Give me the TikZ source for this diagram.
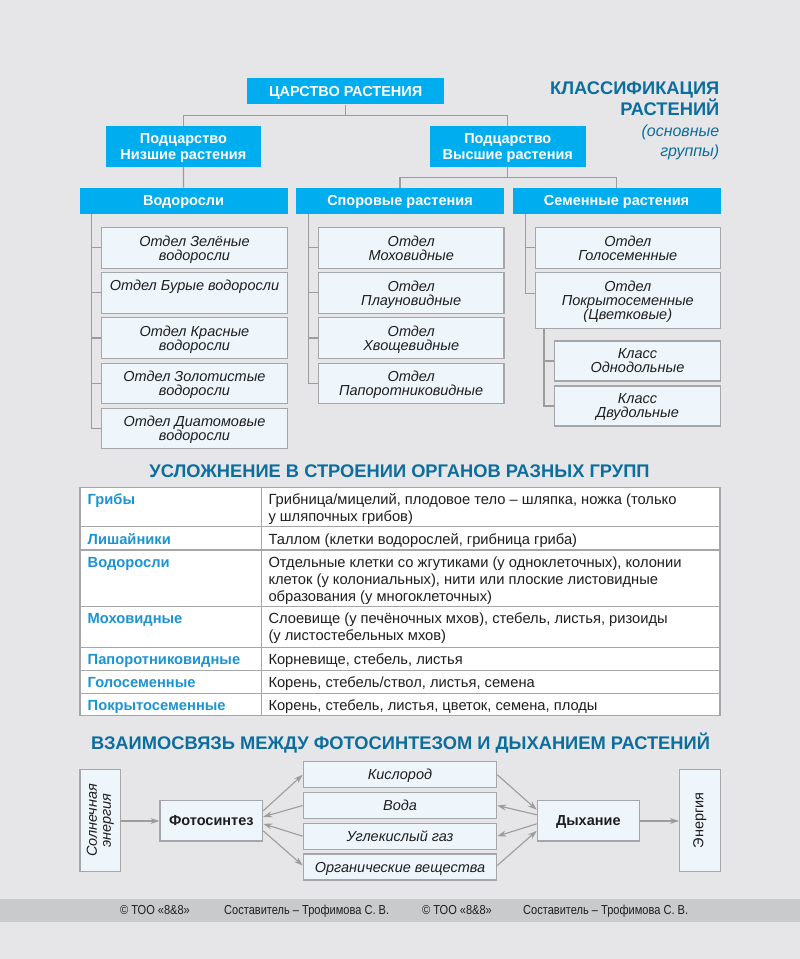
\documentclass[tikz,border=0pt]{standalone}
\usepackage{fontspec}
\setmainfont{Liberation Sans}
\newfontfamily\narrowfont[FakeStretch=0.85]{Liberation Sans}
\usetikzlibrary{arrows.meta,calc}
\definecolor{bg}{HTML}{E6E6E8}
\definecolor{footband}{HTML}{C9CACC}
\definecolor{cyanbox}{HTML}{00AEEF}
\definecolor{titleblue}{HTML}{0C6E9E}
\definecolor{tabblue}{HTML}{1C94D2}
\definecolor{boxfill}{HTML}{EEF6FC}
\definecolor{boxline}{HTML}{A4A6A9}
\definecolor{lineg}{HTML}{9C9C9C}
\definecolor{ink}{HTML}{1E1E1E}
\tikzset{
  hdr/.style={fill=cyanbox, text=white, font=\bfseries\fontsize{14.5}{15.5}\selectfont, inner sep=0pt, align=center, text depth=0pt},
  leaf/.style={draw=boxline, line width=1.1pt, fill=boxfill, text=ink, font=\itshape\fontsize{14.5}{14}\selectfont, inner sep=0pt, align=center, text depth=0pt},
  leaftext/.style={text=ink, font=\itshape\fontsize{14.5}{14}\selectfont, inner sep=0pt, align=center},
  conn/.style={draw=lineg, line width=1.2pt},
  arr/.style={draw=lineg, line width=1.1pt, -{Stealth[length=9pt,width=6pt]}},
  ttl/.style={text=titleblue, font=\bfseries\fontsize{18.3}{18.5}\selectfont, inner sep=0pt},
  ttlit/.style={text=titleblue, font=\itshape\fontsize{16}{18}\selectfont, inner sep=0pt},
  tabhead/.style={text=tabblue, font=\bfseries\fontsize{14.7}{17}\selectfont, inner sep=0pt, anchor=base west},
  tabtext/.style={text=ink, font=\fontsize{14.7}{17}\selectfont, inner sep=0pt, anchor=base west},
  mbox/.style={draw=boxline, line width=1.1pt, fill=boxfill, text=ink, inner sep=0pt, align=center, text depth=0pt},
  foot/.style={text=ink, font=\narrowfont\fontsize{13}{14}\selectfont, inner sep=0pt, anchor=base west}
}
\begin{document}
\begin{tikzpicture}[x=1pt,y=-1pt]
\useasboundingbox (0,0) rectangle (800,959);
\fill[bg] (0,0) rectangle (800,959);
\fill[footband] (0,899) rectangle (800,921.5);

% ---- title ----
\node[ttl, anchor=base east] (t1) at (719.5,94.5) {КЛАССИФИКАЦИЯ};
\node[ttl, anchor=base east] (t2) at (719.5,115) {РАСТЕНИЙ};
\node[ttlit, anchor=base east] (t3) at (719.5,136.5) {(основные};
\node[ttlit, anchor=base east] (t4) at (719.5,156.5) {группы)};

% ---- tree headers ----
\node[hdr, minimum width=197pt, minimum height=26pt] (king) at (345.7,91.3) {ЦАРСТВО РАСТЕНИЯ};
\node[hdr, minimum width=155pt, minimum height=40.5pt] (low) at (183.4,146.3) {Подцарство\\Низшие растения};
\node[hdr, minimum width=155.5pt, minimum height=40.5pt] (high) at (507.8,146.3) {Подцарство\\Высшие растения};
\node[hdr, minimum width=208pt, minimum height=26pt] (algae) at (183.5,200.8) {Водоросли};
\node[hdr, minimum width=208pt, minimum height=26pt] (spore) at (400,200.8) {Споровые растения};
\node[hdr, minimum width=208pt, minimum height=26pt] (seed) at (616.5,200.8) {Семенные растения};

\draw[conn] (king.south) -- ++(0,10.7) coordinate (k1);
\draw[conn] (low.north) |- (k1) -| (high.north);
\draw[conn] (low.south) -- (algae.north);
\draw[conn] (high.south) -- ++(0,10.8) coordinate (h1);
\draw[conn] (spore.north) |- (h1) -| (seed.north);

% ---- algae column ----
\node[leaf, minimum width=185.5pt, minimum height=40.5pt] (a1) at (194.5,247.8) {Отдел Зелёные\\водоросли};
\node[leaf, minimum width=185.5pt, minimum height=41pt] (a2) at (194.5,292.8) {};
\node[leaftext] (a2t) at (194.5,286.3) {Отдел Бурые водоросли};
\node[leaf, minimum width=185.5pt, minimum height=40.5pt] (a3) at (194.5,338) {Отдел Красные\\водоросли};
\node[leaf, minimum width=185.5pt, minimum height=40.5pt] (a4) at (194.5,383.3) {Отдел Золотистые\\водоросли};
\node[leaf, minimum width=185.5pt, minimum height=40.5pt] (a5) at (194.5,428.3) {Отдел Диатомовые\\водоросли};
\coordinate (av) at ([xshift=12.3pt]algae.south west);
\draw[conn] (av) |- (a5.west);
\foreach \i in {1,...,4} \draw[conn] (av |- a\i.west) -- (a\i.west);

% ---- spore column ----
\node[leaf, minimum width=185.5pt, minimum height=40.5pt] (s1) at (411.2,247.8) {Отдел\\Моховидные};
\node[leaf, minimum width=185.5pt, minimum height=41pt] (s2) at (411.2,292.8) {Отдел\\Плауновидные};
\node[leaf, minimum width=185.5pt, minimum height=40.5pt] (s3) at (411.2,338) {Отдел\\Хвощевидные};
\node[leaf, minimum width=185.5pt, minimum height=40.5pt] (s4) at (411.2,383.3) {Отдел\\Папоротниковидные};
\coordinate (sv) at ([xshift=12.3pt]spore.south west);
\draw[conn] (sv) |- (s4.west);
\foreach \i in {1,...,3} \draw[conn] (sv |- s\i.west) -- (s\i.west);

% ---- seed column ----
\node[leaf, minimum width=185.5pt, minimum height=40.5pt] (g1) at (627.8,247.8) {Отдел\\Голосеменные};
\node[leaf, minimum width=185.5pt, minimum height=56pt] (g2) at (627.8,300.3) {Отдел\\Покрытосеменные\\(Цветковые)};
\node[leaf, minimum width=166pt, minimum height=40pt] (c1) at (637.5,361) {Класс\\Однодольные};
\node[leaf, minimum width=166pt, minimum height=40pt] (c2) at (637.5,406) {Класс\\Двудольные};
\coordinate (dv) at ([xshift=12.8pt]seed.south west);
\draw[conn] (dv) |- (g2.west |- 0,293.3);
\draw[conn] (dv |- g1.west) -- (g1.west);
\coordinate (cv) at ([xshift=9.5pt]g2.south west);
\draw[conn] (cv) |- (c2.west);
\draw[conn] (cv |- c1.west) -- (c1.west);

% ---- table ----
\node[ttl, anchor=base] (sec2) at (399.5,477.7) {УСЛОЖНЕНИЕ В СТРОЕНИИ ОРГАНОВ РАЗНЫХ ГРУПП};
\fill[white] (80,487.3) rectangle (720,715.5);
\draw[boxline, line width=1.5pt] (80,487.3) rectangle (720,715.5);
\draw[boxline, line width=1.5pt] (261.7,487.3) -- (261.7,715.5);
\foreach \yy in {526.7,550,606.7,647.3,670.7,693.3}
  \draw[boxline, line width=1.5pt] (80,\yy) -- (720,\yy);

\node[tabhead] (r1) at (87.5,504.3) {Грибы};
\node[tabtext] (r1a) at (268.3,504.3) {Грибница/мицелий, плодовое тело – шляпка, ножка (только};
\node[tabtext] (r1b) at (268.3,521.5) {у шляпочных грибов)};
\node[tabhead] (r2) at (87.5,544) {Лишайники};
\node[tabtext] (r2a) at (268.3,544) {Таллом (клетки водорослей, грибница гриба)};
\node[tabhead] (r3) at (87.5,567) {Водоросли};
\node[tabtext] (r3a) at (268.3,567) {Отдельные клетки со жгутиками (у одноклеточных), колонии};
\node[tabtext] (r3b) at (268.3,584.2) {клеток (у колониальных), нити или плоские листовидные};
\node[tabtext] (r3c) at (268.3,601.4) {образования (у многоклеточных)};
\node[tabhead] (r4) at (87.5,623.5) {Моховидные};
\node[tabtext] (r4a) at (268.3,623.5) {Слоевище (у печёночных мхов), стебель, листья, ризоиды};
\node[tabtext] (r4b) at (268.3,640.7) {(у листостебельных мхов)};
\node[tabhead] (r5) at (87.5,664.5) {Папоротниковидные};
\node[tabtext] (r5a) at (268.3,664.5) {Корневище, стебель, листья};
\node[tabhead] (r6) at (87.5,687.3) {Голосеменные};
\node[tabtext] (r6a) at (268.3,687.3) {Корень, стебель/ствол, листья, семена};
\node[tabhead] (r7) at (87.5,710) {Покрытосеменные};
\node[tabtext] (r7a) at (268.3,710) {Корень, стебель, листья, цветок, семена, плоды};

% ---- photosynthesis / respiration ----
\node[ttl, anchor=base] (sec3) at (400.5,749) {ВЗАИМОСВЯЗЬ МЕЖДУ ФОТОСИНТЕЗОМ И ДЫХАНИЕМ РАСТЕНИЙ};

\node[mbox, minimum width=40.7pt, minimum height=102.4pt] (sun) at (100.3,820.5) {};
\node[leaftext, rotate=90] (sunt) at (sun.center) {Солнечная\\энергия};
\node[mbox, minimum width=102.7pt, minimum height=40.3pt, font=\bfseries\fontsize{14.5}{15}\selectfont] (foto) at (211.3,820.8) {Фотосинтез};
\node[mbox, minimum width=193.4pt, minimum height=26pt, font=\itshape\fontsize{14.5}{15}\selectfont] (o2) at (400,774.7) {Кислород};
\node[mbox, minimum width=193.4pt, minimum height=26pt, font=\itshape\fontsize{14.5}{15}\selectfont] (water) at (400,805.5) {Вода};
\node[mbox, minimum width=193.4pt, minimum height=26pt, font=\itshape\fontsize{14.5}{15}\selectfont] (co2) at (400,836.2) {Углекислый газ};
\node[mbox, minimum width=193.4pt, minimum height=26pt, font=\itshape\fontsize{14.5}{15}\selectfont] (org) at (400,867) {Органические вещества};
\node[mbox, minimum width=102pt, minimum height=40.3pt, font=\bfseries\fontsize{14.5}{15}\selectfont] (resp) at (588.3,820.8) {Дыхание};
\node[mbox, minimum width=40.7pt, minimum height=102.4pt] (energy) at (699.7,820.5) {};
\node[text=ink, inner sep=0pt, rotate=90, font=\fontsize{14.5}{15}\selectfont] (energyt) at (energy.center) {Энергия};

\draw[arr] (sun.east |- 0,821) -- (foto.west |- 0,821);
\draw[arr] (resp.east |- 0,821) -- (energy.west |- 0,821);

\draw[arr] ([yshift=10pt]foto.east) -- (o2.west);
\draw[arr] (water.west) -- ([yshift=4pt]foto.east);
\draw[arr] (co2.west) -- ([yshift=-3pt]foto.east);
\draw[arr] ([yshift=-10pt]foto.east) -- ([yshift=1.5pt]org.west);

\draw[arr] (o2.east) -- ([yshift=11pt]resp.west);
\draw[arr] ([yshift=6pt]resp.west) -- (water.east);
\draw[arr] ([yshift=-3pt]resp.west) -- (co2.east);
\draw[arr] ([yshift=1.5pt]org.east) -- ([yshift=-10pt]resp.west);

% ---- footer ----
\node[foot] (f1) at (120,914.8) {© ТОО «8\&8»};
\node[foot] (f2) at (224,914.8) {Составитель – Трофимова С. В.};
\node[foot] (f3) at (422,914.8) {© ТОО «8\&8»};
\node[foot] (f4) at (523,914.8) {Составитель – Трофимова С. В.};
\end{tikzpicture}
\end{document}
